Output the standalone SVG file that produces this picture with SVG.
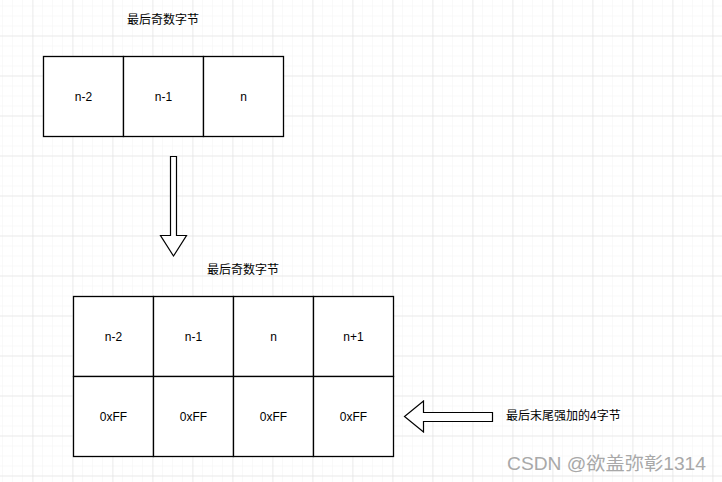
<svg xmlns="http://www.w3.org/2000/svg" width="722" height="482" viewBox="0 0 722 482">
<defs>
<pattern id="minor" x="3" y="6.5" width="10" height="10" patternUnits="userSpaceOnUse">
<path d="M10 0V10M0 10H10" fill="none" stroke="#f3f3f3" stroke-width="1"/>
</pattern>
<pattern id="major" x="-6.5" y="-3.5" width="40" height="40" patternUnits="userSpaceOnUse">
<path d="M40 0V40M0 40H40" fill="none" stroke="#dcdcdc" stroke-width="1"/>
</pattern>
</defs>
<style>
.cell{fill:#fff;stroke:#000;stroke-width:1.3}
.t{font-family:"Liberation Sans","Noto Sans CJK SC",sans-serif;font-size:12px;fill:#000;text-anchor:middle;dominant-baseline:central}
.arrow{fill:#fff;stroke:#000;stroke-width:1.2;stroke-linejoin:miter}
</style>
<rect width="722" height="482" fill="#fff"/>
<rect width="722" height="482" fill="url(#minor)"/>
<rect width="722" height="482" fill="url(#major)"/>

<g id="title1"><text class="t" x="163" y="20">最后奇数字节</text></g>
<g id="top-row">
<g id="top-n-2"><rect class="cell" x="43.5" y="56.5" width="80" height="80"/><text class="t" x="83.5" y="96.5">n-2</text></g>
<g id="top-n-1"><rect class="cell" x="123.5" y="56.5" width="80" height="80"/><text class="t" x="163.5" y="96.5">n-1</text></g>
<g id="top-n"><rect class="cell" x="203.5" y="56.5" width="80" height="80"/><text class="t" x="243.5" y="96.5">n</text></g>
</g>

<g id="title2"><text class="t" x="243" y="270">最后奇数字节</text></g>
<g id="bottom-grid">
<g id="b-n-2"><rect class="cell" x="73.5" y="296.5" width="80" height="80"/><text class="t" x="113.5" y="336.5">n-2</text></g>
<g id="b-n-1"><rect class="cell" x="153.5" y="296.5" width="80" height="80"/><text class="t" x="193.5" y="336.5">n-1</text></g>
<g id="b-n"><rect class="cell" x="233.5" y="296.5" width="80" height="80"/><text class="t" x="273.5" y="336.5">n</text></g>
<g id="b-n+1"><rect class="cell" x="313.5" y="296.5" width="80" height="80"/><text class="t" x="353.5" y="336.5">n+1</text></g>
<g id="b-ff1"><rect class="cell" x="73.5" y="376.5" width="80" height="80"/><text class="t" x="113.5" y="416.5">0xFF</text></g>
<g id="b-ff2"><rect class="cell" x="153.5" y="376.5" width="80" height="80"/><text class="t" x="193.5" y="416.5">0xFF</text></g>
<g id="b-ff3"><rect class="cell" x="233.5" y="376.5" width="80" height="80"/><text class="t" x="273.5" y="416.5">0xFF</text></g>
<g id="b-ff4"><rect class="cell" x="313.5" y="376.5" width="80" height="80"/><text class="t" x="353.5" y="416.5">0xFF</text></g>
</g>

<g id="label-4bytes"><text class="t" x="506" y="416" style="text-anchor:start">最后末尾强加的4字节</text></g>

<g id="connectors">
<path class="arrow" d="M170.5 156.5H176.5V235.5H186.5L173.5 256L160.5 235.5H170.5Z"/>
<path class="arrow" d="M492.5 412.5V421.5H423.5V432L404.5 416.5L423.5 401V412.5Z"/>
</g>

<g id="watermark"><text x="507" y="470" font-family="'Liberation Sans','Noto Sans CJK SC',sans-serif" font-size="18.5" textLength="199" lengthAdjust="spacingAndGlyphs" fill="#a8a8a8">CSDN @欲盖弥彰1314</text></g>
</svg>
